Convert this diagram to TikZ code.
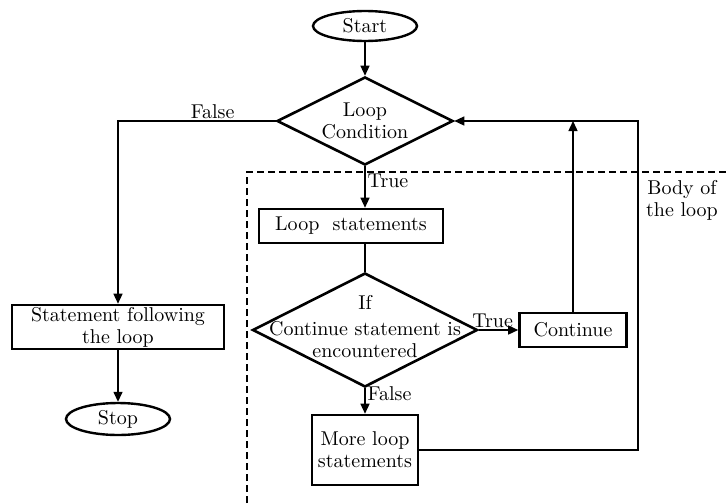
\documentclass[tikz,border=0pt]{standalone}
\usetikzlibrary{shapes.geometric,arrows.meta}
\tikzset{
  terminal/.style={draw,ellipse,line width=1.2pt,inner sep=0pt,minimum width=52pt,minimum height=15pt},
  decision/.style={draw,diamond,line width=1.3pt,inner sep=0pt},
  process/.style={draw,rectangle,line width=1.3pt,align=center,inner sep=1pt},
  flow/.style={line width=0.7pt,-{Triangle[length=5pt,width=4.5pt]}},
  link/.style={line width=0.7pt},
  tag/.style={inner sep=1pt}
}
\begin{document}
\begin{tikzpicture}[x=0.5pt,y=-0.5pt,font=\fontsize{10}{11}\selectfont]
      \useasboundingbox (0,0) rectangle (727,503);
      % body of the loop
      \draw[line width=1.3pt,dash pattern=on 3.5pt off 2pt] (247,503) -- (247,172) -- (727,172);
      \node[align=center] (bodytext) at (682,200) {Body of\\the loop};
      % nodes
      \node[terminal] (start) at (365,26) {Start};
      \node[decision,minimum width=88pt,minimum height=44pt] (cond) at (365,121) {};
      \node[align=center] (condtext) at (cond.center) {Loop\\Condition};
      \node[process,minimum width=92pt,minimum height=17pt] (body) at (351,226) {Loop\ \ statements};
      \node[decision,minimum width=112.5pt,minimum height=57pt] (ifc) at (365,330) {};
      \node[align=center] (ifctext) at (365,327) {If\\[2pt]Continue statement is\\encountered};
      \node[process,minimum width=53.5pt,minimum height=17pt] (cont) at (573,330) {Continue};
      \node[process,minimum width=53pt,minimum height=35pt] (more) at (365,450) {More loop\\statements};
      \node[process,minimum width=106pt,minimum height=22pt] (after) at (118,327) {Statement following\\the loop};
      \node[terminal,minimum height=16pt] (stop) at (118,419) {Stop};
      \coordinate (back) at (638,121);
      % connectors
      \draw[flow] (start) -- (cond);
      \draw[flow] (cond.south) -- node[tag,anchor=west,pos=0.35] {True} (cond.south |- body.north);
      \draw[link] (ifc.north |- body.south) -- (ifc.north);
      \draw[flow] (ifc.east) -- node[tag,anchor=south,pos=0.35] {True} (cont.west);
      \draw[flow] (ifc.south) -- node[tag,anchor=west,pos=0.2] {False} (more.north);
      \draw[flow] (more.east) -| (back) -- (cond.east);
      \draw[flow] (cont.north) -- (cont.north |- back);
      \draw[flow] (cond.west) -- node[tag,anchor=south,pos=0.4] {False} (cond.west -| after.north) -- (after.north);
      \draw[flow] (after) -- (stop);
    \end{tikzpicture}
\end{document}
